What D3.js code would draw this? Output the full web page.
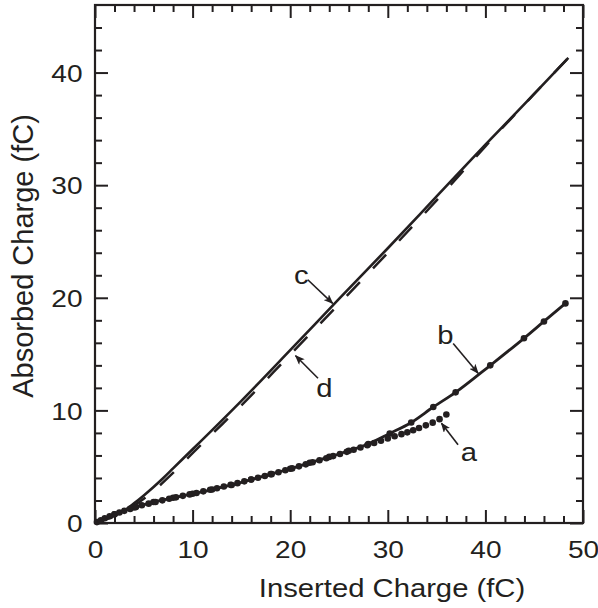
<!DOCTYPE html>
<html>
<head>
<meta charset="utf-8">
<script src="https://cdn.jsdelivr.net/npm/d3@7"></script>
<style>
  body { margin: 0; background: #fff; }
  svg text { font-family: "Liberation Sans", Arial, sans-serif; fill: #231f20; }
</style>
</head>
<body>
<div id="chart"></div>
<script>
// curve a: dots only
const aX = [0.2, 0.6, 1.0, 1.5, 2.0, 2.5, 3.0, 3.6, 4.2, 4.8, 5.5, 6.2, 6.9, 7.6, 8.3, 9.0, 9.7, 10.4, 11.1, 11.8,
  12.5, 13.2, 13.9, 14.6, 15.3, 16.0, 16.7, 17.4, 18.1, 18.8, 19.5, 20.2, 20.9, 21.6, 22.3, 23.0, 23.7, 24.4, 25.1,
  25.8, 26.5, 27.2, 27.9, 28.6, 29.3, 30.0, 30.7, 31.4, 32.0, 32.6, 33.2, 33.9, 34.6, 35.3, 36.0]
const aY = [0.08, 0.25, 0.42, 0.6, 0.78, 0.93, 1.08, 1.25, 1.41, 1.57, 1.72, 1.87, 2.01, 2.15, 2.28, 2.41, 2.54, 2.67, 2.81, 2.95,
  3.09, 3.24, 3.39, 3.54, 3.7, 3.86, 4.02, 4.18, 4.34, 4.51, 4.68, 4.85, 5.03, 5.21, 5.39, 5.57, 5.75, 5.94, 6.13,
  6.32, 6.51, 6.71, 6.91, 7.11, 7.31, 7.51, 7.71, 7.89, 8.05, 8.23, 8.43, 8.67, 8.91, 9.22, 9.64]

// curve b: line with dots
const bX = [0, 2, 4, 6, 8, 10, 12, 14, 16, 18, 20, 22, 24, 26, 28, 30.2, 32.4, 34.66, 36.95, 40.5, 43.95, 46.0, 48.2]
const bY = [0, 0.78, 1.38, 1.86, 2.24, 2.6, 2.97, 3.38, 3.86, 4.34, 4.82, 5.35, 5.87, 6.42, 7.02, 7.95, 8.93, 10.3, 11.6, 14.0, 16.4, 17.9, 19.5]

// curve c: solid line
const cX = [0, 1, 2, 3, 4, 5, 6, 7, 8, 10, 12, 15, 20, 25, 30, 35, 40, 45, 48.5]
const cY = [0, 0.3, 0.65, 1.1, 1.75, 2.45, 3.2, 4.0, 4.85, 6.55, 8.25, 10.85, 15.35, 19.9, 24.4, 29.0, 33.6, 38.1, 41.3]

// curve d: dashed line
const dX = [0, 2, 4, 6, 8, 10, 12, 15, 20, 25, 30, 35, 40, 45, 48.5]
const dY = [0, 0.6, 1.55, 2.85, 4.45, 6.2, 7.9, 10.45, 14.95, 19.45, 24.0, 28.65, 33.45, 38.1, 41.3]

const xMajor = [0, 10, 20, 30, 40, 50]
const yMajor = [0, 10, 20, 30, 40]
const xMinor = d3.range(2, 50, 2).filter(v => v % 10 !== 0)
const yMinor = d3.range(2, 46, 2).filter(v => v % 10 !== 0)

// annotation letters, label spot, arrow tail, arrow tip (data units)
const noteText = ['a', 'b', 'c', 'd']
const noteAt = [[38.3, 6.3], [35.9, 16.7], [21.15, 22.05], [23.5, 11.95]]
const noteFrom = [[37.2, 6.95], [36.7, 15.95], [21.8, 21.6], [22.85, 12.85]]
const noteTo = [[35.5, 8.85], [39.25, 13.3], [24.35, 19.5], [20.55, 14.85]]

const ink = '#231f20'
const margin = { top: 5, right: 15, bottom: 85, left: 95 }
const width = 598 - margin.left - margin.right
const height = 608 - margin.top - margin.bottom
const sx = 1.17

const svg = d3.select('#chart')
  .append('svg')
  .attr('width', 598)
  .attr('height', 608)

svg.append('defs').append('marker')
  .attr('id', 'head')
  .attr('viewBox', '0 0 10 8')
  .attr('refX', 9)
  .attr('refY', 4)
  .attr('markerUnits', 'userSpaceOnUse')
  .attr('markerWidth', 10)
  .attr('markerHeight', 8)
  .attr('orient', 'auto')
  .append('path')
  .attr('d', 'M0,0 L10,4 L0,8 L2.5,4 Z')
  .attr('fill', ink)

const g = svg.append('g')
  .attr('transform', `translate(${margin.left},${margin.top})`)

const x = d3.scaleLinear().domain([0, 50]).range([0, width])
const y = d3.scaleLinear().domain([0, 46]).range([height, 0])

const styleAxis = sel => {
  sel.select('.domain').remove()
  sel.selectAll('line').attr('stroke', ink).attr('stroke-width', 2)
}

// bottom
g.append('g').attr('transform', `translate(0,${height})`)
  .call(d3.axisBottom(x).tickValues(xMajor).tickSize(-13).tickFormat(d3.format('d')))
  .call(styleAxis)
  .selectAll('text')
  .attr('y', 35)
  .attr('dy', null)
  .attr('font-size', 24)
  .attr('transform', `scale(${sx},1)`)
g.append('g').attr('transform', `translate(0,${height})`)
  .call(d3.axisBottom(x).tickValues(xMinor).tickSize(-7).tickFormat(''))
  .call(styleAxis)

// top
g.append('g')
  .call(d3.axisTop(x).tickValues(xMajor).tickSize(-13).tickFormat(''))
  .call(styleAxis)
g.append('g')
  .call(d3.axisTop(x).tickValues(xMinor).tickSize(-7).tickFormat(''))
  .call(styleAxis)

// left
g.append('g')
  .call(d3.axisLeft(y).tickValues(yMajor).tickSize(-13).tickFormat(d3.format('d')))
  .call(styleAxis)
  .selectAll('text')
  .attr('x', -12.5 / sx)
  .attr('dy', '0.36em')
  .attr('font-size', 24)
  .attr('transform', `scale(${sx},1)`)
g.append('g')
  .call(d3.axisLeft(y).tickValues(yMinor).tickSize(-7).tickFormat(''))
  .call(styleAxis)

// right
g.append('g').attr('transform', `translate(${width},0)`)
  .call(d3.axisRight(y).tickValues(yMajor).tickSize(-13).tickFormat(''))
  .call(styleAxis)
g.append('g').attr('transform', `translate(${width},0)`)
  .call(d3.axisRight(y).tickValues(yMinor).tickSize(-7).tickFormat(''))
  .call(styleAxis)

g.append('rect')
  .attr('width', width)
  .attr('height', height)
  .attr('fill', 'none')
  .attr('stroke', ink)
  .attr('stroke-width', 2.2)

const zip = (xs, ys) => xs.map((v, i) => [v, ys[i]])
const line = d3.line()
  .x(d => x(d[0]))
  .y(d => y(d[1]))
  .curve(d3.curveMonotoneX)

g.append('path')
  .datum(zip(cX, cY))
  .attr('d', line)
  .attr('fill', 'none')
  .attr('stroke', ink)
  .attr('stroke-width', 2.6)

g.append('path')
  .datum(zip(dX, dY))
  .attr('d', line)
  .attr('fill', 'none')
  .attr('stroke', ink)
  .attr('stroke-width', 2.5)
  .attr('stroke-dasharray', '19 19')

g.append('path')
  .datum(zip(bX, bY))
  .attr('d', line)
  .attr('fill', 'none')
  .attr('stroke', ink)
  .attr('stroke-width', 2.8)

g.selectAll('.bdot')
  .data(zip(bX, bY).filter(d => d[0] > 0))
  .enter()
  .append('circle')
  .attr('class', 'bdot')
  .attr('cx', d => x(d[0]))
  .attr('cy', d => y(d[1]))
  .attr('r', 3.3)
  .attr('fill', ink)

g.selectAll('.adot')
  .data(zip(aX, aY))
  .enter()
  .append('circle')
  .attr('class', 'adot')
  .attr('cx', d => x(d[0]))
  .attr('cy', d => y(d[1]))
  .attr('r', 3.3)
  .attr('fill', ink)

// annotations
noteText.forEach((t, i) => {
  g.append('line')
    .attr('x1', x(noteFrom[i][0]))
    .attr('y1', y(noteFrom[i][1]))
    .attr('x2', x(noteTo[i][0]))
    .attr('y2', y(noteTo[i][1]))
    .attr('stroke', ink)
    .attr('stroke-width', 1.6)
    .attr('marker-end', 'url(#head)')
  g.append('text')
    .attr('transform', `translate(${x(noteAt[i][0])},${y(noteAt[i][1])}) scale(${sx},1)`)
    .attr('text-anchor', 'middle')
    .attr('dy', '0.36em')
    .attr('font-size', 25)
    .text(t)
})

// axis titles
svg.append('text')
  .attr('transform', `translate(392,597) scale(${sx},1)`)
  .attr('text-anchor', 'middle')
  .attr('font-size', 25)
  .text('Inserted Charge (fC)')

svg.append('text')
  .attr('transform', 'translate(33,256) rotate(-90)')
  .attr('text-anchor', 'middle')
  .attr('font-size', 29)
  .text('Absorbed Charge (fC)')
</script>
</body>
</html>
